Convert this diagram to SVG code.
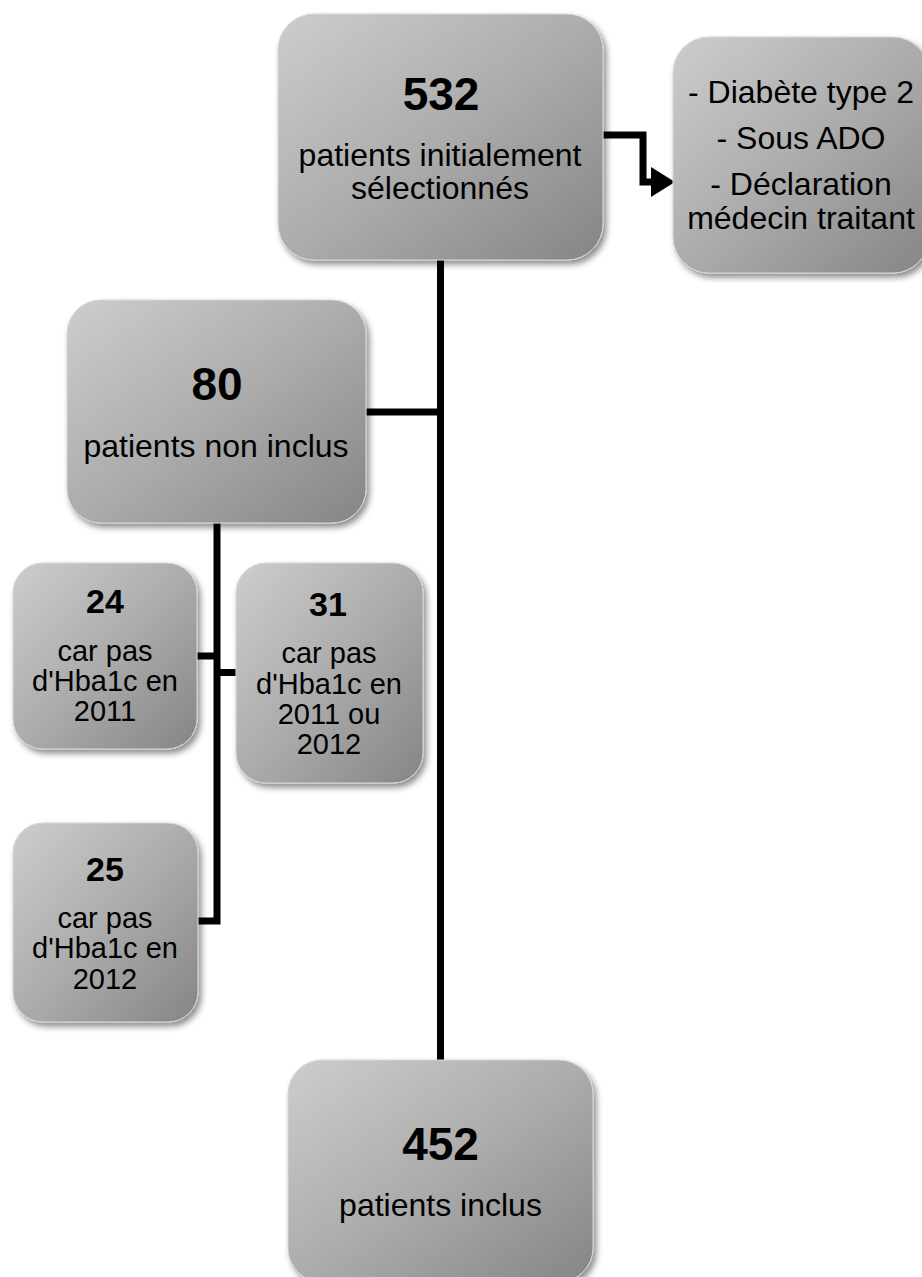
<svg xmlns="http://www.w3.org/2000/svg" width="922" height="1277" viewBox="0 0 922 1277">
<defs>
<linearGradient id="g" x1="0" y1="0" x2="1" y2="1">
<stop offset="0" stop-color="#cdcdcd"/>
<stop offset="0.5" stop-color="#acacac"/>
<stop offset="1" stop-color="#858585"/>
</linearGradient>
<filter id="sh" x="-10%" y="-10%" width="125%" height="125%">
<feDropShadow dx="3" dy="4" stdDeviation="3" flood-color="#000" flood-opacity="0.45"/>
</filter>
<marker id="ah" viewBox="0 0 24 30" refX="4" refY="15" markerWidth="24" markerHeight="30" markerUnits="userSpaceOnUse" orient="auto">
<path d="M0,0 L24,15 L0,30 Z" fill="#000"/>
</marker>
</defs>
<style>
.box{fill:url(#g);stroke:#d6d6d6;stroke-width:1;filter:url(#sh)}
.num{font-family:"Liberation Sans",Arial,sans-serif;font-weight:bold;font-size:46px;text-anchor:middle;fill:#000}
.nums{font-family:"Liberation Sans",Arial,sans-serif;font-weight:bold;font-size:34px;text-anchor:middle;fill:#000}
.lbl{font-family:"Liberation Sans",Arial,sans-serif;font-size:32px;text-anchor:middle;fill:#000}
.lbls{font-family:"Liberation Sans",Arial,sans-serif;font-size:29px;text-anchor:middle;fill:#000}
.con{fill:none;stroke:#000;stroke-width:7;stroke-linejoin:miter}
</style>
<rect width="922" height="1277" fill="#fff"/>
<g id="connectors">
<path class="con" d="M440.5,258 V1062"/>
<path class="con" d="M364,412 H440.5"/>
<path class="con" d="M217,521 V921 H196"/>
<path class="con" d="M196,656 H217"/>
<path class="con" d="M217,672.5 H238"/>
<path class="con" d="M601,135 H643 V182 H655" marker-end="url(#ah)"/>
</g>
<g id="n532">
<rect class="box" x="278" y="14" width="325" height="246" rx="36"/>
<text class="num" x="441" y="110">532</text>
<text class="lbl" x="440" y="166">patients initialement</text>
<text class="lbl" x="440" y="199">sélectionnés</text>
</g>
<g id="criteria">
<rect class="box" x="673" y="37" width="256" height="236" rx="36"/>
<text class="lbl" x="801" y="103">- Diabète type 2</text>
<text class="lbl" x="801" y="149">- Sous ADO</text>
<text class="lbl" x="801" y="195">- Déclaration</text>
<text class="lbl" x="801" y="229">médecin traitant</text>
</g>
<g id="n80">
<rect class="box" x="67" y="300" width="299" height="223" rx="34"/>
<text class="num" x="217" y="400">80</text>
<text class="lbl" x="216" y="457">patients non inclus</text>
</g>
<g id="n24">
<rect class="box" x="13" y="563" width="184" height="186" rx="30"/>
<text class="nums" x="105" y="613">24</text>
<text class="lbls" x="105" y="661">car pas</text>
<text class="lbls" x="105" y="691">d'Hba1c en</text>
<text class="lbls" x="105" y="721">2011</text>
</g>
<g id="n31">
<rect class="box" x="236" y="563" width="187" height="220" rx="30"/>
<text class="nums" x="328" y="616">31</text>
<text class="lbls" x="329" y="663">car pas</text>
<text class="lbls" x="329" y="694">d'Hba1c en</text>
<text class="lbls" x="329" y="724">2011 ou</text>
<text class="lbls" x="329" y="754">2012</text>
</g>
<g id="n25">
<rect class="box" x="13" y="823" width="185" height="199" rx="30"/>
<text class="nums" x="105" y="881">25</text>
<text class="lbls" x="105" y="928">car pas</text>
<text class="lbls" x="105" y="958">d'Hba1c en</text>
<text class="lbls" x="105" y="989">2012</text>
</g>
<g id="n452">
<rect class="box" x="288" y="1060" width="305" height="222" rx="34"/>
<text class="num" x="440.5" y="1160">452</text>
<text class="lbl" x="440.5" y="1216">patients inclus</text>
</g>
</svg>
